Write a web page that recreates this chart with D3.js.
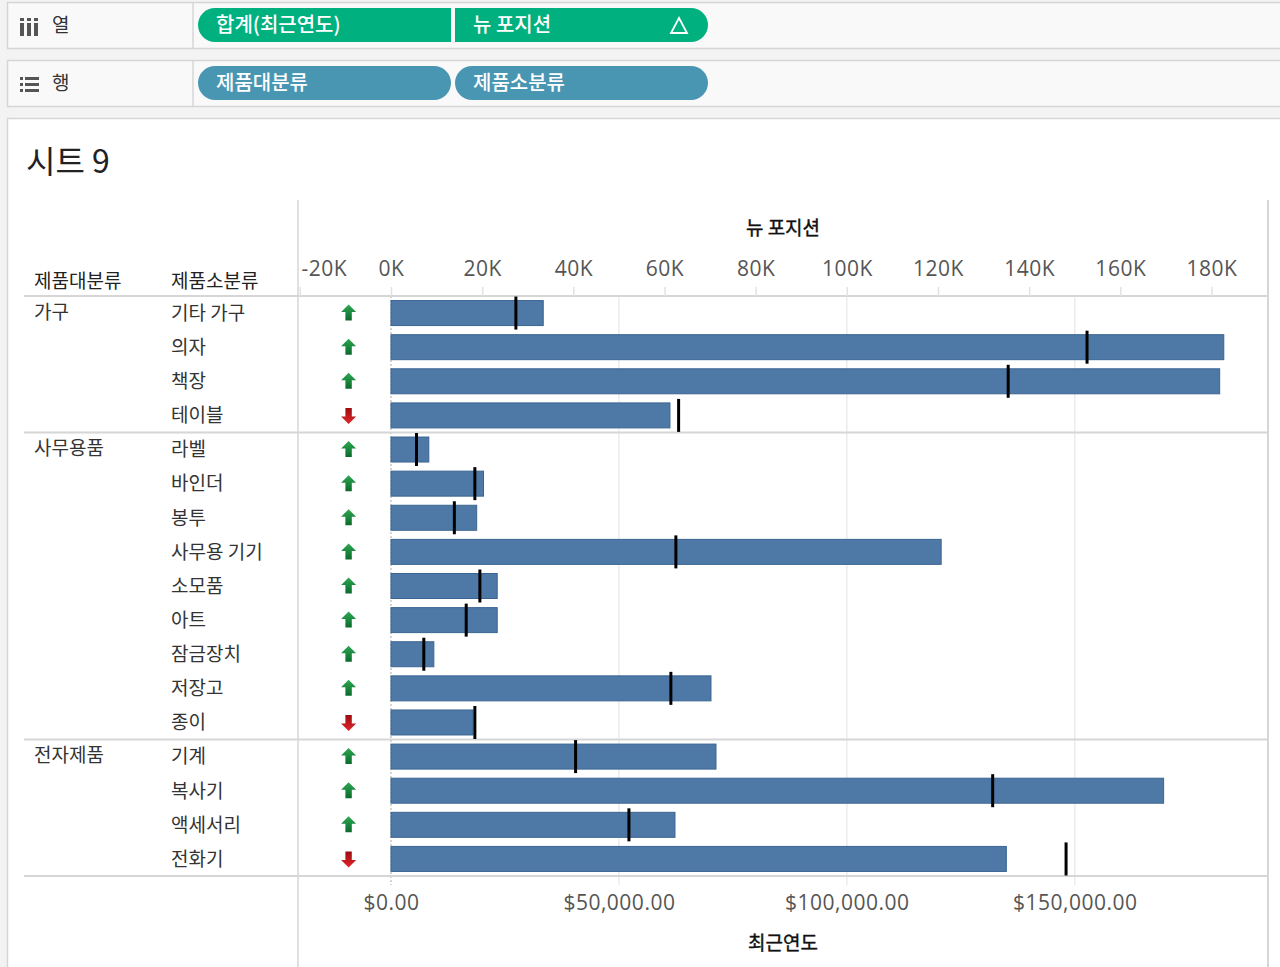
<!DOCTYPE html>
<html>
<head>
<meta charset="utf-8">
<script src="https://cdn.jsdelivr.net/npm/d3@7"></script>
<style>
  body { margin: 0; background: #f3f3f3; }
  svg text { font-family: "Noto Sans CJK KR", "Noto Sans", sans-serif; }
  svg .num text { font-family: "Open Sans", "Noto Sans CJK KR", sans-serif; letter-spacing: 0.5px; }
</style>
</head>
<body>
<svg id="chart" width="1280" height="967"></svg>
<script>
// rows of the view (제품대분류 / 제품소분류)
const mainCategory = ['가구', '가구', '가구', '가구',
    '사무용품', '사무용품', '사무용품', '사무용품', '사무용품', '사무용품', '사무용품', '사무용품', '사무용품',
    '전자제품', '전자제품', '전자제품', '전자제품'];
const subCategory = ['기타 가구', '의자', '책장', '테이블',
    '라벨', '바인더', '봉투', '사무용 기기', '소모품', '아트', '잠금장치', '저장고', '종이',
    '기계', '복사기', '액세서리', '전화기'];

// 합계(최근연도) - the bars
const recentYear = [33400, 182700, 181800, 61200,
    8300, 20300, 18800, 120700, 23300, 23300, 9400, 70200, 18000,
    71300, 169500, 62300, 135000];
// 뉴 포지션 - the black reference ticks
const newPosition = [27400, 152700, 135400, 63100,
    5600, 18400, 13900, 62500, 19500, 16500, 7200, 61400, 18400,
    40500, 132000, 52200, 148100];

const topTicks = [-20000, 0, 20000, 40000, 60000, 80000, 100000, 120000, 140000, 160000, 180000];
const bottomTicks = [0, 50000, 100000, 150000];
const arrowAt = -9300;   // where the up/down shape sits on the axis

const svg = d3.select('#chart');
const grey = '#d6d6d6';

// ---------- shelves ----------
const shelves = [
    { label: '열', top: 2, pills: ['합계(최근연도)', '뉴 포지션'], color: '#00b17f', joined: true },
    { label: '행', top: 60, pills: ['제품대분류', '제품소분류'], color: '#4996b3', joined: false }
];
shelves.forEach(function(s, i) {
    svg.append('rect').attr('x', 7.5).attr('y', s.top + 0.5).attr('width', 1290).attr('height', 46)
        .attr('fill', '#f9f9f9').attr('stroke', grey).attr('stroke-width', 1.5);
    svg.append('line').attr('x1', 193).attr('x2', 193).attr('y1', s.top).attr('y2', s.top + 47)
        .attr('stroke', grey).attr('stroke-width', 1.5);

    // shelf icon
    const ic = svg.append('g').attr('transform', 'translate(20,' + (s.top + 16) + ')').attr('fill', '#555');
    if (i == 0) {
        [0, 7, 14].forEach(function(dx) {
            ic.append('rect').attr('x', dx).attr('y', 0).attr('width', 4).attr('height', 3);
            ic.append('rect').attr('x', dx).attr('y', 5).attr('width', 4).attr('height', 13);
        });
    } else {
        [2, 8, 14].forEach(function(dy) {
            ic.append('rect').attr('x', 0).attr('y', dy - 1).attr('width', 3).attr('height', 3);
            ic.append('rect').attr('x', 5).attr('y', dy - 1).attr('width', 14).attr('height', 3);
        });
    }
    svg.append('text').attr('x', 52).attr('y', s.top + 23).attr('dy', '0.35em')
        .attr('font-size', 19).attr('fill', '#333').text(s.label);

    s.pills.forEach(function(p, j) {
        const x0 = 198 + j * 257, w = 253, y0 = s.top + 6, h = 34, r = 17;
        let d;
        if (s.joined && j == 0) {
            d = 'M' + (x0 + r) + ',' + y0 + 'H' + (x0 + w) + 'V' + (y0 + h) + 'H' + (x0 + r)
                + 'A' + r + ',' + r + ' 0 0 1 ' + (x0 + r) + ',' + y0 + 'Z';
        } else if (s.joined && j == 1) {
            d = 'M' + x0 + ',' + y0 + 'H' + (x0 + w - r) + 'A' + r + ',' + r + ' 0 0 1 ' + (x0 + w - r) + ',' + (y0 + h)
                + 'H' + x0 + 'Z';
        } else {
            d = 'M' + (x0 + r) + ',' + y0 + 'H' + (x0 + w - r) + 'A' + r + ',' + r + ' 0 0 1 ' + (x0 + w - r) + ',' + (y0 + h)
                + 'H' + (x0 + r) + 'A' + r + ',' + r + ' 0 0 1 ' + (x0 + r) + ',' + y0 + 'Z';
        }
        svg.append('path').attr('d', d).attr('fill', s.color);
        svg.append('text').attr('x', x0 + 18).attr('y', y0 + h / 2).attr('dy', '0.36em')
            .attr('font-size', 20).attr('font-weight', 500).attr('fill', '#fff').text(p);
    });
    if (s.joined) {
        // sort icon on the second pill
        svg.append('path').attr('d', 'M679,' + (s.top + 16) + 'L687,' + (s.top + 31) + 'L671,' + (s.top + 31) + 'Z')
            .attr('fill', 'none').attr('stroke', '#fff').attr('stroke-width', 1.8);
    }
});

// ---------- sheet card ----------
svg.append('rect').attr('x', 7.5).attr('y', 118.5).attr('width', 1290).attr('height', 900)
    .attr('fill', '#fff').attr('stroke', grey).attr('stroke-width', 1.5);
svg.append('text').attr('x', 26).attr('y', 161).attr('dy', '0.36em')
    .attr('font-size', 32).attr('fill', '#222').text('시트 9');

// ---------- scales ----------
const paneLeft = 298, paneRight = 1268, paneTop = 296, paneBottom = 876;
const x = d3.scaleLinear().domain([-20400, 192400]).range([paneLeft, paneRight]);
const y = d3.scaleBand().domain(subCategory).range([paneTop, paneBottom]);
const cy = function(name) { return y(name) + y.bandwidth() / 2; };

// grid + zero line
svg.append('g').selectAll('line').data(bottomTicks.filter(function(d) { return d != 0; }))
    .enter().append('line')
    .attr('x1', function(d) { return x(d); }).attr('x2', function(d) { return x(d); })
    .attr('y1', paneTop).attr('y2', paneBottom + 9)
    .attr('stroke', '#ececec').attr('stroke-width', 1.5);
svg.append('line').attr('x1', x(0)).attr('x2', x(0)).attr('y1', paneTop).attr('y2', paneBottom + 9)
    .attr('stroke', '#aaa').attr('stroke-width', 1).attr('stroke-dasharray', '2,2');

// header labels
svg.append('text').attr('x', 34).attr('y', 281).attr('dy', '0.36em').attr('font-size', 19)
    .attr('fill', '#222').text('제품대분류');
svg.append('text').attr('x', 171).attr('y', 281).attr('dy', '0.36em').attr('font-size', 19)
    .attr('fill', '#222').text('제품소분류');

// row labels
svg.append('g').selectAll('text').data(subCategory).enter().append('text')
    .attr('x', 171).attr('y', function(d) { return cy(d); }).attr('dy', '0.36em')
    .attr('font-size', 19).attr('fill', '#333').text(function(d) { return d; });
const groups = mainCategory.filter(function(d, i) { return mainCategory.indexOf(d) == i; });
const firstRow = function(g) { return subCategory[mainCategory.indexOf(g)]; };
svg.append('g').selectAll('text').data(groups).enter().append('text')
    .attr('x', 34).attr('y', function(g) { return cy(firstRow(g)) - 1; }).attr('dy', '0.36em')
    .attr('font-size', 19).attr('fill', '#333').text(function(g) { return g; });

// separators
const sepY = [paneTop].concat(groups.slice(1).map(function(g) { return y(firstRow(g)); }), [paneBottom]);
svg.append('g').selectAll('line').data(sepY).enter().append('line')
    .attr('x1', 24).attr('x2', paneRight).attr('y1', function(d) { return d; }).attr('y2', function(d) { return d; })
    .attr('stroke', grey).attr('stroke-width', 2);
svg.append('line').attr('x1', paneLeft).attr('x2', paneLeft).attr('y1', 200).attr('y2', 967)
    .attr('stroke', grey).attr('stroke-width', 1.5);
svg.append('line').attr('x1', paneRight).attr('x2', paneRight).attr('y1', 200).attr('y2', 967)
    .attr('stroke', grey).attr('stroke-width', 2);

// ---------- bars ----------
svg.append('g').selectAll('rect').data(subCategory).enter().append('rect')
    .attr('x', x(0)).attr('y', function(d) { return cy(d) - 12.5; })
    .attr('width', function(d, i) { return x(recentYear[i]) - x(0); })
    .attr('height', 25)
    .attr('fill', '#4e79a7').attr('stroke', '#3a6592').attr('stroke-width', 1);

// reference ticks
svg.append('g').selectAll('line').data(subCategory).enter().append('line')
    .attr('x1', function(d, i) { return x(newPosition[i]); })
    .attr('x2', function(d, i) { return x(newPosition[i]); })
    .attr('y1', function(d) { return cy(d) - 16.5; }).attr('y2', function(d) { return cy(d) + 16.5; })
    .attr('stroke', '#000').attr('stroke-width', 3);

// up / down shapes
const defs = svg.append('defs');
[['up', '#2ea852', '#0a6a2b'], ['down', '#e2262c', '#9a0b10']].forEach(function(g) {
    const lg = defs.append('linearGradient').attr('id', 'grad-' + g[0]).attr('x1', 0).attr('x2', 0).attr('y1', 0).attr('y2', 1);
    lg.append('stop').attr('offset', '0%').attr('stop-color', g[1]);
    lg.append('stop').attr('offset', '100%').attr('stop-color', g[2]);
});
const arrowUp = 'M0,-8.5L7.5,-1L3.2,-1L3.2,7.5L-3.2,7.5L-3.2,-1L-7.5,-1Z';
svg.append('g').selectAll('path').data(subCategory).enter().append('path')
    .attr('d', arrowUp)
    .attr('transform', function(d, i) {
        const up = recentYear[i] >= newPosition[i];
        return 'translate(' + x(arrowAt) + ',' + cy(d) + ')' + (up ? '' : ' scale(1,-1)');
    })
    .attr('fill', function(d, i) { return recentYear[i] >= newPosition[i] ? 'url(#grad-up)' : 'url(#grad-down)'; });

// ---------- axes ----------
const topAxis = svg.append('g').attr('class', 'num').attr('transform', 'translate(0,' + paneTop + ')')
    .call(d3.axisTop(x).tickValues(topTicks).tickSize(9).tickPadding(11)
        .tickFormat(function(d) { return d / 1000 + 'K'; }));
topAxis.select('.domain').remove();
topAxis.selectAll('line').attr('stroke', '#e2e2e2').attr('stroke-width', 1.5);
topAxis.selectAll('text').attr('font-size', 21).attr('fill', '#555');
// keep the first label inside the pane
topAxis.selectAll('.tick text').each(function(d) {
    const w = this.getComputedTextLength();
    if (x(d) - w / 2 < paneLeft + 3) d3.select(this).attr('text-anchor', 'start').attr('x', paneLeft + 3 - x(d));
});

const bottomAxis = svg.append('g').attr('class', 'num').attr('transform', 'translate(0,' + paneBottom + ')')
    .call(d3.axisBottom(x).tickValues(bottomTicks).tickSize(0).tickPadding(19)
        .tickFormat(d3.format('$,.2f')));
bottomAxis.select('.domain').remove();
bottomAxis.selectAll('text').attr('font-size', 21).attr('fill', '#555');

svg.append('text').attr('x', (paneLeft + paneRight) / 2).attr('y', 228).attr('dy', '0.36em')
    .attr('text-anchor', 'middle').attr('font-size', 19).attr('fill', '#111')
    .attr('stroke', '#111').attr('stroke-width', 0.4).text('뉴 포지션');
svg.append('text').attr('x', (paneLeft + paneRight) / 2).attr('y', 943).attr('dy', '0.36em')
    .attr('text-anchor', 'middle').attr('font-size', 19).attr('fill', '#111')
    .attr('stroke', '#111').attr('stroke-width', 0.4).text('최근연도');
</script>
</body>
</html>
